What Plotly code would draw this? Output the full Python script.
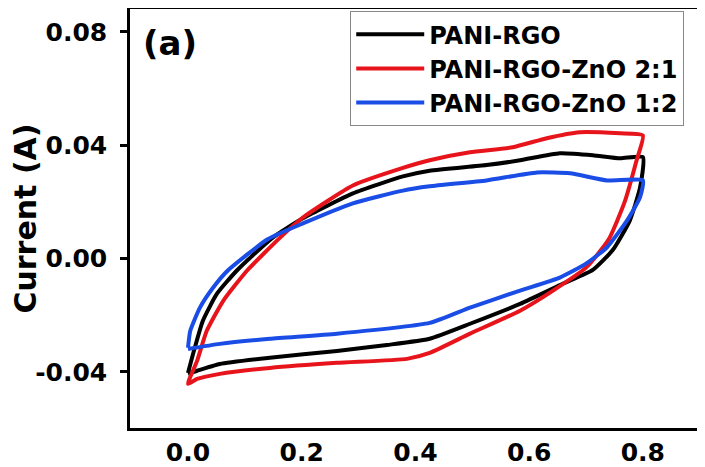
import plotly.graph_objects as go

# cyclic voltammetry loops (potential in V, current in A)
pani_rgo_x = [0, 0.009, 0.026, 0.051, 0.086, 0.149, 0.202, 0.29, 0.378, 0.425, 0.525, 0.584,
              0.654, 0.712, 0.76, 0.8, 0.795, 0.777, 0.747, 0.712, 0.659, 0.584, 0.496, 0.425,
              0.35, 0.262, 0.144, 0.056, 0.016, 0]
pani_rgo_y = [-0.0404, -0.0336, -0.022, -0.0124, -0.0042, 0.0074, 0.0142, 0.023, 0.029, 0.031,
              0.033, 0.0347, 0.0372, 0.0365, 0.0354, 0.0358, 0.025, 0.0134, 0.003, -0.004,
              -0.0089, -0.016, -0.023, -0.0283, -0.0305, -0.0326, -0.035, -0.0372, -0.0396, -0.0407]

zno_21_x = [0, 0.016, 0.033, 0.062, 0.104, 0.162, 0.202, 0.29, 0.378, 0.425, 0.496, 0.571,
            0.631, 0.689, 0.76, 0.8, 0.789, 0.768, 0.74, 0.70, 0.642, 0.584, 0.496, 0.425,
            0.385, 0.262, 0.144, 0.056, 0.016, 0]
zno_21_y = [-0.0442, -0.0361, -0.0255, -0.0149, -0.0042, 0.0074, 0.0145, 0.0258, 0.032, 0.0347,
            0.0375, 0.0393, 0.0425, 0.0446, 0.0442, 0.0435, 0.0347, 0.020, 0.0068, -0.0032,
            -0.0113, -0.0184, -0.0265, -0.0333, -0.0354, -0.0368, -0.0386, -0.0407, -0.0425, -0.0442]

zno_12_x = [0, 0.004, 0.021, 0.044, 0.070, 0.14, 0.202, 0.29, 0.378, 0.425, 0.525, 0.614,
            0.672, 0.737, 0.8, 0.795, 0.772, 0.737, 0.70, 0.654, 0.584, 0.496, 0.425, 0.262,
            0.144, 0.056, 0]
zno_12_y = [-0.0315, -0.0255, -0.0173, -0.0103, -0.0042, 0.0068, 0.0124, 0.0195, 0.024, 0.0255,
            0.0276, 0.0304, 0.0301, 0.0276, 0.0276, 0.0216, 0.0134, 0.004, -0.0018, -0.0067,
            -0.0113, -0.0173, -0.0227, -0.0265, -0.0283, -0.0301, -0.0319]

series_names = ["PANI-RGO", "PANI-RGO-ZnO 2:1", "PANI-RGO-ZnO 1:2"]
series_colors = ["#000000", "#e8141c", "#1a4ce6"]
y_ticks = [-0.04, 0.00, 0.04, 0.08]
x_ticks = [0.0, 0.2, 0.4, 0.6, 0.8]

FONT = dict(family="DejaVu Sans", color="black", weight="bold")

fig = go.Figure()
for name, color, xs, ys in zip(
    series_names,
    series_colors,
    [pani_rgo_x, zno_21_x, zno_12_x],
    [pani_rgo_y, zno_21_y, zno_12_y],
):
    fig.add_trace(
        go.Scatter(
            x=xs,
            y=ys,
            name=name,
            mode="lines",
            line=dict(color=color, width=4, shape="spline", smoothing=0.5),
        )
    )

axis_common = dict(
    showline=True,
    linecolor="black",
    linewidth=2.5,
    mirror=True,
    showgrid=False,
    zeroline=False,
    automargin=False,
    tickfont=dict(size=25, **FONT),
)

fig.update_xaxes(
    range=[-0.102, 0.904],
    tickvals=x_ticks,
    ticktext=["%.1f" % v for v in x_ticks],
    ticks="",
    ticklabelstandoff=0,
    **axis_common,
)
fig.update_yaxes(
    range=[-0.0598, 0.0881],
    tickvals=y_ticks,
    ticktext=["%.2f" % v for v in y_ticks],
    ticks="outside",
    ticklen=7,
    tickwidth=2.5,
    tickcolor="black",
    ticklabelstandoff=8,
    title=dict(text="Current (A)", font=dict(size=30, **FONT), standoff=9),
    **axis_common,
)

fig.add_annotation(
    x=0.07, y=0.92, xref="paper", yref="paper",
    xanchor="center", yanchor="middle",
    text="(a)", showarrow=False,
    font=dict(size=34, **FONT),
)

# the page adds an 8 px body margin, so the figure is a bit smaller than the window
fig.update_layout(
    width=697,
    height=459,
    margin=dict(l=122, r=3, t=1, b=39),
    paper_bgcolor="white",
    plot_bgcolor="white",
    showlegend=True,
    legend=dict(
        x=0.385, y=0.995, xanchor="left", yanchor="top",
        bordercolor="#888888", borderwidth=1,
        bgcolor="rgba(0,0,0,0)",
        font=dict(size=24, **FONT),
        tracegroupgap=0,
        itemwidth=68,
    ),
)

fig.write_html("out.html")
